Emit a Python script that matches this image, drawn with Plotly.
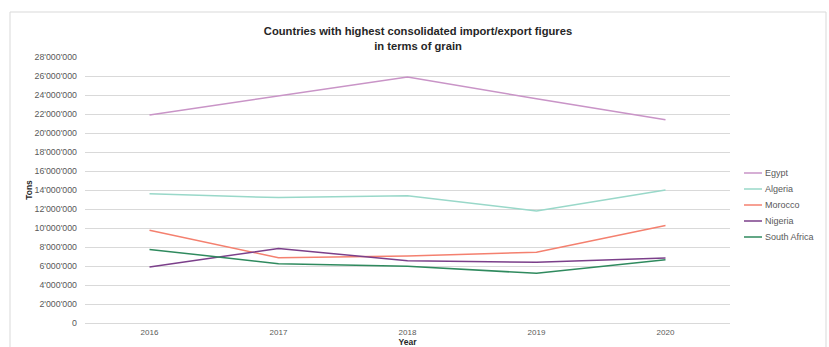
import plotly.graph_objects as go

years = ["2016", "2017", "2018", "2019", "2020"]
egypt = [21900000, 23900000, 25900000, 23600000, 21400000]
algeria = [13600000, 13200000, 13400000, 11800000, 14000000]
morocco = [9770000, 6870000, 7050000, 7450000, 10270000]
nigeria = [5900000, 7850000, 6550000, 6400000, 6850000]
south_africa = [7750000, 6250000, 5970000, 5230000, 6650000]

series = [
    ("Egypt", egypt, "#c994c7"),
    ("Algeria", algeria, "#99d8c9"),
    ("Morocco", morocco, "#f4806f"),
    ("Nigeria", nigeria, "#7b3f8a"),
    ("South Africa", south_africa, "#2f8a5e"),
]

fig = go.Figure()
for name, vals, col in series:
    fig.add_trace(go.Scatter(x=years, y=vals, name=name, mode="lines",
                             line=dict(color=col, width=1.5), showlegend=False))

W, H = 829, 347
L, R, T, B = 85, 99, 57, 24
pw, ph = W - L - R, H - T - B

def px(x):
    return (x - L) / pw

def py(y):
    return (H - B - y) / ph

fig.update_layout(
    width=W, height=H,
    margin=dict(l=L, r=R, t=T, b=B, autoexpand=False),
    paper_bgcolor="white", plot_bgcolor="white",
    separators=".'",
    font=dict(family="Liberation Sans, Arial", size=8, color="#595959"),
    title=dict(text="<b>Countries with highest consolidated import/export figures<br>in terms of grain</b>",
               x=px(418), xref="paper", xanchor="center",
               yref="container", y=1 - 35 / H, yanchor="middle",
               font=dict(size=11.2, color="#262626", family="Liberation Sans, Arial")),
    xaxis=dict(showgrid=False, showline=True, linecolor="#d9d9d9", linewidth=1,
               ticks="", tickfont=dict(size=8, color="#595959"), automargin=False,
               ticklabelstandoff=1,
               title=dict(text="<b>Year</b>", font=dict(size=8.5, color="#262626"), standoff=7),
               range=[-0.5, 4.5]),
    yaxis=dict(range=[0, 28000000], dtick=2000000, tickformat=",d", automargin=False,
               showgrid=True, gridcolor="#d9d9d9", gridwidth=1, zeroline=False,
               ticklabelstandoff=7,
               tickfont=dict(size=8.8, color="#595959"),
               title=dict(text="<b>Tons</b>", font=dict(size=8.5, color="#262626"), standoff=0)),
    showlegend=False,
)

fig.add_shape(type="rect", xref="paper", yref="paper",
              x0=px(10), x1=px(826), y0=py(360), y1=py(12),
              line=dict(color="#d9d9d9", width=1), fillcolor="rgba(0,0,0,0)", layer="below")

# custom legend (compact entries like the reference)
for i, (name, vals, col) in enumerate(series):
    yy = 173 + 16 * i
    fig.add_shape(type="line", xref="paper", yref="paper",
                  x0=px(744), x1=px(762), y0=py(yy), y1=py(yy),
                  line=dict(color=col, width=1.5))
    fig.add_annotation(xref="paper", yref="paper", x=px(763), y=py(yy),
                       xanchor="left", yanchor="middle", showarrow=False,
                       text=name, font=dict(size=9, color="#595959"))

fig.write_html("out.html")
